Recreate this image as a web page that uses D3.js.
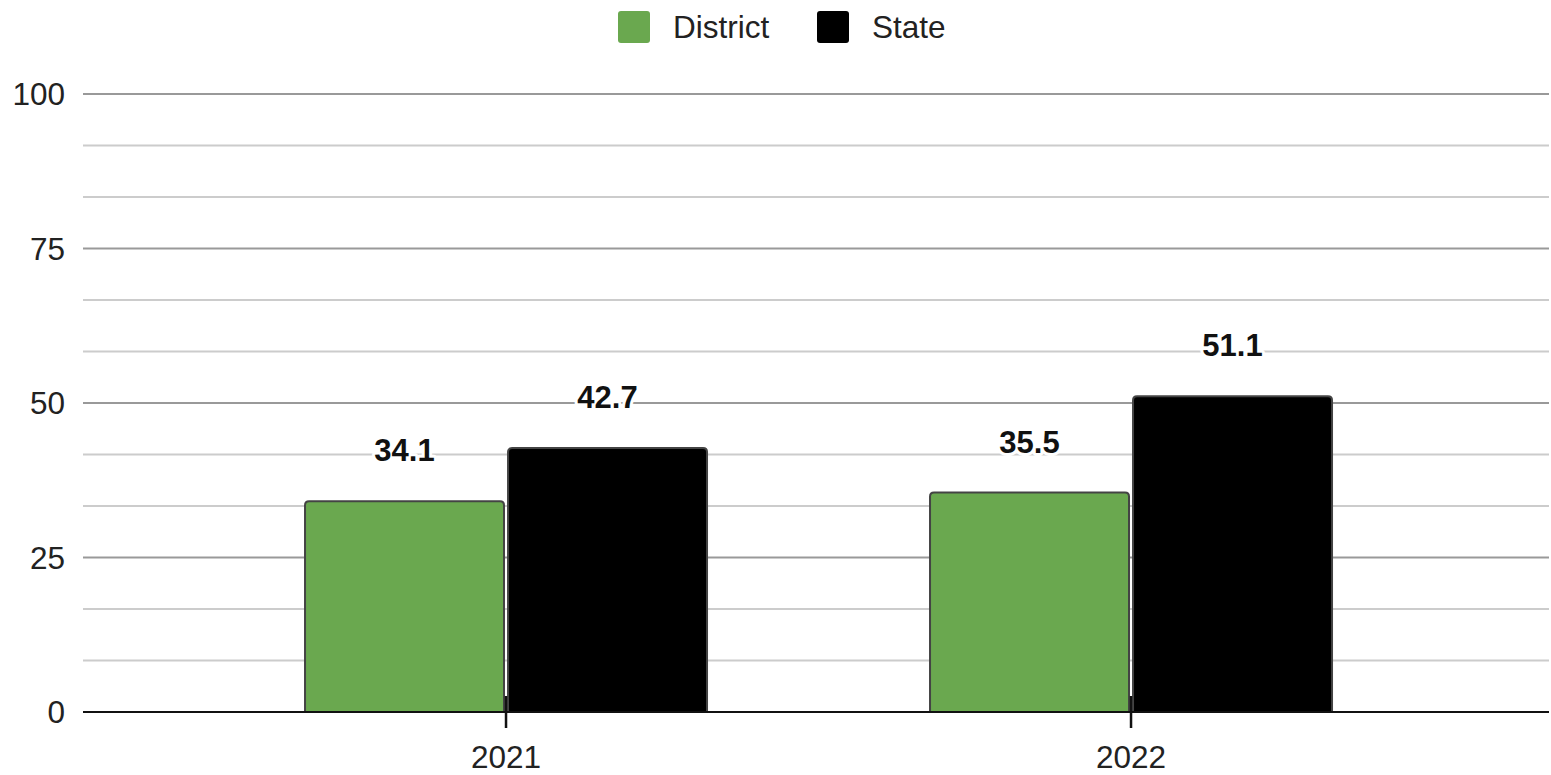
<!DOCTYPE html>
<html><head><meta charset="utf-8">
<script src="https://cdn.jsdelivr.net/npm/d3@7"></script>
<style>body{margin:0;background:#fff;}svg{display:block;font-family:"Liberation Sans",Arial,sans-serif;}</style>
</head><body>
<svg id="chart" width="1551" height="775"></svg>
<script>
const categories = ["2021", "2022"];
const seriesNames = ["District", "State"];
const seriesColors = ["#6aa84f", "#000000"];
const districtValues = [34.1, 35.5];
const stateValues = [42.7, 51.1];
const yTicks = [0, 25, 50, 75, 100];

(function () {
const svg = d3.select("#chart");
const plotLeft = 83, plotRight = 1549, plotTop = 94, plotBottom = 712;

const y = d3.scaleLinear().domain([0, 100]).range([plotBottom, plotTop]);
const x = d3.scalePoint().domain(categories).range([plotLeft, plotRight]).padding(0.6728).align(0.503);
const sub = d3.scaleBand().domain(seriesNames).range([-202, 202]).paddingInner(0.01);

// gridlines
const minor = d3.range(0, 101, 100 / 12).filter(v => !yTicks.some(t => Math.abs(t - v) < 1e-6));
svg.append("g").selectAll("line").data(minor).join("line")
  .attr("x1", plotLeft).attr("x2", plotRight)
  .attr("y1", d => y(d)).attr("y2", d => y(d))
  .attr("stroke", "#cccccc").attr("stroke-width", 2);
svg.append("g").selectAll("line").data(yTicks.filter(t => t > 0)).join("line")
  .attr("x1", plotLeft).attr("x2", plotRight)
  .attr("y1", d => y(d)).attr("y2", d => y(d))
  .attr("stroke", "#999999").attr("stroke-width", 2);

// y labels
svg.append("g").selectAll("text").data(yTicks).join("text")
  .attr("x", 65).attr("y", d => y(d)).attr("dy", "0.35em")
  .attr("text-anchor", "end").attr("font-size", 31.5).attr("fill", "#222")
  .text(d => d);

// bars
const data = [];
categories.forEach((c, i) => {
  data.push({cat: c, s: "District", v: districtValues[i], color: seriesColors[0]});
  data.push({cat: c, s: "State", v: stateValues[i], color: seriesColors[1]});
});
function barPath(x0, w, yTop, yBot, r) {
  return `M${x0},${yBot} V${yTop + r} Q${x0},${yTop} ${x0 + r},${yTop} H${x0 + w - r} Q${x0 + w},${yTop} ${x0 + w},${yTop + r} V${yBot} Z`;
}
svg.append("g").selectAll("path").data(data).join("path")
  .attr("d", d => {
    const x0 = x(d.cat) + sub(d.s) + 1;
    const w = sub.bandwidth() - 2;
    return barPath(x0, w, y(d.v), plotBottom, 4);
  })
  .attr("fill", d => d.color).attr("stroke", "#444").attr("stroke-width", 2);

// axis line and ticks
svg.append("line").attr("x1", plotLeft).attr("x2", plotRight).attr("y1", plotBottom).attr("y2", plotBottom)
  .attr("stroke", "#111").attr("stroke-width", 2);
svg.append("g").selectAll("line").data(categories).join("line")
  .attr("x1", d => x(d)).attr("x2", d => x(d)).attr("y1", 696).attr("y2", 728)
  .attr("stroke", "#111").attr("stroke-width", 2.5);
svg.append("g").selectAll("text").data(categories).join("text")
  .attr("x", d => x(d)).attr("y", 768).attr("text-anchor", "middle")
  .attr("font-size", 31.5).attr("fill", "#222").text(d => d);

// value labels
svg.append("g").selectAll("text").data(data).join("text")
  .attr("x", d => x(d.cat) + sub(d.s) + sub.bandwidth() / 2)
  .attr("y", d => y(d.v) - 40)
  .attr("text-anchor", "middle").attr("font-size", 31).attr("font-weight", "bold")
  .attr("fill", "#111").attr("stroke", "#fff").attr("stroke-width", 6)
  .attr("paint-order", "stroke").attr("stroke-linejoin", "round")
  .text(d => d.v.toFixed(1));

// legend
const legend = [{name: "District", color: seriesColors[0], x: 618}, {name: "State", color: seriesColors[1], x: 817}];
const lg = svg.append("g").selectAll("g").data(legend).join("g");
lg.append("rect").attr("x", d => d.x).attr("y", 11).attr("width", 32).attr("height", 32)
  .attr("rx", 3).attr("fill", d => d.color);
lg.append("text").attr("x", d => d.x + 55).attr("y", 38).attr("font-size", 31.5).attr("fill", "#222")
  .text(d => d.name);
})();
</script>
</body></html>
